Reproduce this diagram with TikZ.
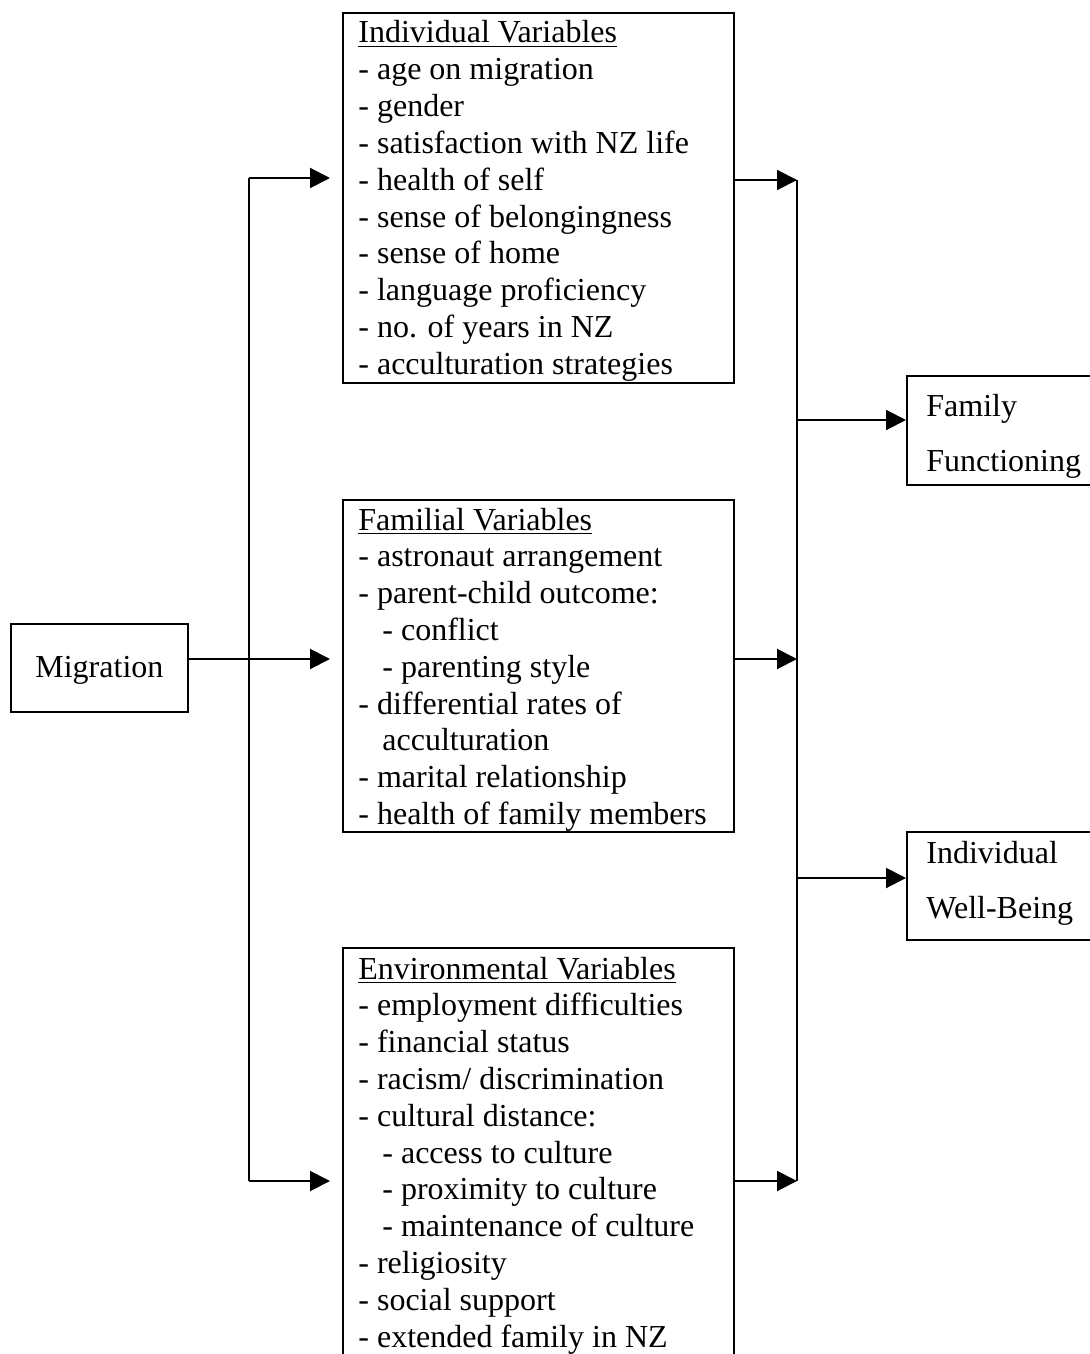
\documentclass[tikz,border=0pt]{standalone}
\usepackage{fontspec}
\setmainfont{Liberation Serif}
\usetikzlibrary{arrows.meta,fit}

\begin{document}
\begin{tikzpicture}[x=0.5pt,y=-0.5pt,
  box/.style={draw, line width=1pt, inner sep=0pt},
  item/.style={anchor=base west, inner sep=0pt, font=\fontsize{16}{18}\selectfont},
  wire/.style={line width=1pt},
  link/.style={line width=1pt, -{Triangle[length=10pt,width=10pt]}}]

\useasboundingbox (0,0) rectangle (1090,1354);
\clip (0,0) rectangle (1090,1354);

% boxes
\node[box, fit={(343,13) (734,383)}] (ind) {};
\node[box, fit={(343,500) (734,832)}] (fam) {};
\node[box, fit={(343,948) (734,1400)}] (env) {};
\node[box, fit={(11,624) (188,712)}] (mig) {};
\node[box, fit={(907,376) (1120,485)}] (ff) {};
\node[box, fit={(907,832) (1120,940)}] (iwb) {};

% box texts
\node[item] (migtext) at (35,677) {Migration};
\node[item] (ff1) at (926,416) {Family};
\node[item] (ff2) at (926,471) {Functioning};
\node[item] (iwb1) at (926,863) {Individual};
\node[item] (iwb2) at (926,918) {Well-Being};

\foreach \dx/\t [count=\k from 0] in {
  0/{\underline{Individual Variables}},
  0/{- age on migration},
  0/{- gender},
  0/{- satisfaction with NZ life},
  0/{- health of self},
  0/{- sense of belongingness},
  0/{- sense of home},
  0/{- language proficiency},
  0/{- no. of years in NZ},
  0/{- acculturation strategies}}
  \node[item] (ind-\k) at (358+\dx, 43+36.8*\k) {\t};

\foreach \dx/\t [count=\k from 0] in {
  0/{\underline{Familial Variables}},
  0/{- astronaut arrangement},
  0/{- parent-child outcome:},
  24/{- conflict},
  24/{- parenting style},
  0/{- differential rates of},
  24/{acculturation},
  0/{- marital relationship},
  0/{- health of family members}}
  \node[item] (fam-\k) at (358+\dx, 530+36.8*\k) {\t};

\foreach \dx/\t [count=\k from 0] in {
  0/{\underline{Environmental Variables}},
  0/{- employment difficulties},
  0/{- financial status},
  0/{- racism/ discrimination},
  0/{- cultural distance:},
  24/{- access to culture},
  24/{- proximity to culture},
  24/{- maintenance of culture},
  0/{- religiosity},
  0/{- social support},
  0/{- extended family in NZ}}
  \node[item] (env-\k) at (358+\dx, 979+36.8*\k) {\t};

% junction points
\coordinate (lt) at (249,178);
\coordinate (lm) at (249,659);
\coordinate (lb) at (249,1181);
\coordinate (rt) at (797,180);
\coordinate (rm) at (797,659);
\coordinate (rb) at (797,1181);
\coordinate (rf) at (797,420);
\coordinate (rw) at (797,878);
\coordinate (indin) at (330,178);
\coordinate (famin) at (330,659);
\coordinate (envin) at (330,1181);

% fan out from Migration
\draw[wire] (lt) -- (lb);
\draw[link] (lt) -- (indin);
\draw[link] (mig.east |- lm) -- (famin);
\draw[link] (lb) -- (envin);

% gather into outcomes
\draw[link] (ind.east |- rt) -- (rt);
\draw[link] (fam.east |- rm) -- (rm);
\draw[link] (env.east |- rb) -- (rb);
\draw[wire] (rt) -- (rb);
\draw[link] (rf) -- (ff.west |- rf);
\draw[link] (rw) -- (iwb.west |- rw);

\end{tikzpicture}
\end{document}
